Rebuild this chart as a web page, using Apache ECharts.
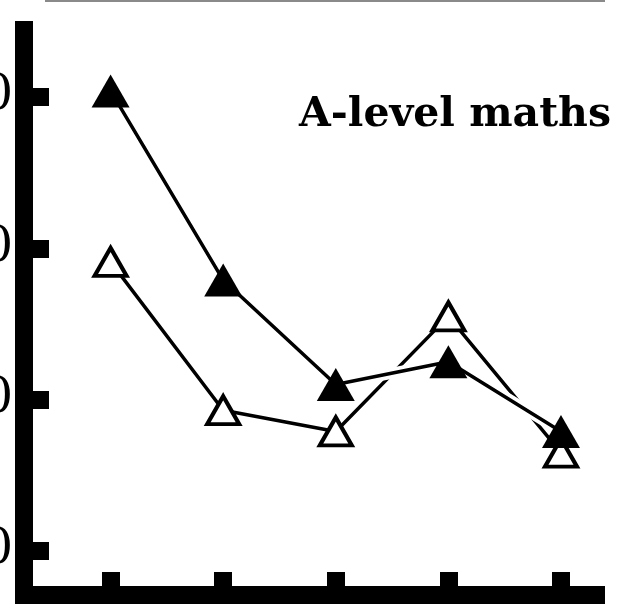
<!DOCTYPE html>
<html>
<head>
<meta charset="utf-8">
<style>
  html, body { margin: 0; padding: 0; background: #fff; }
  #chart { width: 622px; height: 607px; }
</style>
<script src="https://cdn.jsdelivr.net/npm/echarts@6/dist/echarts.min.js"></script>
</head>
<body>
<div id="chart"></div>
<script>
// Measurement occasions along the horizontal axis
const periods = [1, 2, 3, 4, 5];
// Solid-triangle series
const solidValues = [40.4, 27.9, 21.0, 22.5, 17.9];
// Hollow-triangle series
const hollowValues = [29.1, 19.3, 17.9, 25.5, 16.5];
// Vertical axis tick values
const yTicks = [10, 20, 30, 40];
const chartTitle = 'A-level maths';

const toPairs = vals => periods.map((p, i) => [p, vals[i]]);

const chart = echarts.init(document.getElementById('chart'), null, { renderer: 'canvas' });

chart.setOption({
  animation: false,
  backgroundColor: '#ffffff',
  grid: { left: 24, right: 26, top: 21, bottom: 12, containLabel: false, outerBoundsMode: 'none' },
  xAxis: {
    type: 'value',
    min: 0.231,
    max: 5.311,
    splitLine: { show: false },
    axisLine: { show: true, onZero: false, lineStyle: { color: '#000', width: 18, cap: 'square' } },
    axisTick: { show: true, inside: true, length: 23, customValues: periods,
                lineStyle: { color: '#000', width: 18 } },
    axisLabel: { show: false }
  },
  yAxis: {
    type: 'value',
    min: 7.09,
    max: 45.02,
    splitLine: { show: false },
    axisLine: { show: true, lineStyle: { color: '#000', width: 18, cap: 'butt' } },
    axisTick: { show: true, inside: true, length: 25, customValues: yTicks,
                lineStyle: { color: '#000', width: 18 } },
    axisLabel: { show: true, customValues: yTicks, margin: 11, color: '#000',
                 fontFamily: 'DejaVu Serif', fontSize: 48 }
  },
  series: [
    {
      name: 'hollow',
      type: 'line',
      z: 2,
      data: toPairs(hollowValues),
      symbol: 'triangle',
      symbolSize: [32, 28],
      itemStyle: { color: '#fff', borderColor: '#000', borderWidth: 4 },
      lineStyle: { color: '#000', width: 3.5 }
    },
    {
      // white casing that breaks the hollow line where the solid line crosses it
      name: 'casing',
      type: 'line',
      z: 3,
      silent: true,
      data: toPairs(solidValues),
      symbol: 'none',
      lineStyle: { color: '#fff', width: 11 }
    },
    {
      name: 'solid',
      type: 'line',
      z: 4,
      data: toPairs(solidValues),
      symbol: 'triangle',
      symbolSize: [38, 33],
      itemStyle: { color: '#000', borderWidth: 0 },
      lineStyle: { color: '#000', width: 3.5 }
    }
  ],
  graphic: [
    {
      type: 'line',
      shape: { x1: 45, y1: 1, x2: 605, y2: 1 },
      style: { stroke: '#8a8a8a', lineWidth: 2 }
    },
    {
      type: 'text',
      x: 611,
      y: 115,
      style: {
        text: chartTitle,
        fill: '#000',
        font: 'bold 41px "DejaVu Serif"',
        textAlign: 'right',
        textVerticalAlign: 'middle'
      }
    }
  ]
});
</script>
</body>
</html>
